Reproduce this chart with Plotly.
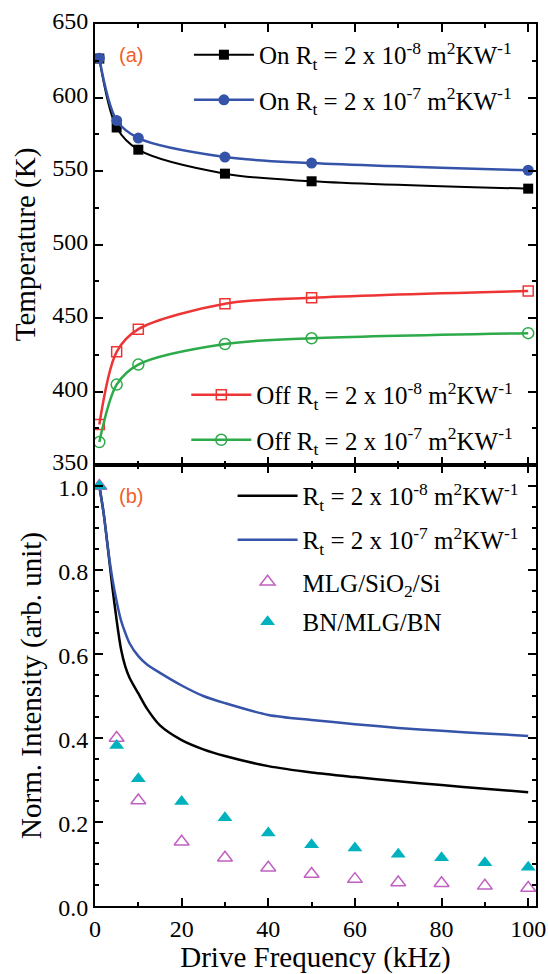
import plotly.graph_objects as go

# ---- (a) simulated temperature vs drive frequency ----
freq_temp = [1, 5, 10, 30, 50, 100]
temp_on_2e8 = [626.5, 579.6, 564.5, 548.2, 543.0, 538.0]
temp_on_2e7 = [626.7, 584.4, 572.4, 559.5, 555.4, 550.5]
temp_off_2e8 = [377.6, 427.0, 442.4, 459.7, 463.8, 468.4]
temp_off_2e7 = [365.6, 404.7, 418.3, 432.3, 436.2, 439.7]

# ---- (b) normalized intensity vs drive frequency ----
freq_model = [1, 2, 3, 4, 5, 6, 7, 8, 10, 12, 15, 20, 25, 30, 40, 50, 60, 70, 80, 90, 100]
int_model_2e8 = [1.0, 0.935, 0.85, 0.76, 0.68, 0.612, 0.57, 0.543, 0.506, 0.47, 0.43,
                 0.395, 0.373, 0.357, 0.333, 0.318, 0.307, 0.297, 0.288, 0.279, 0.271]
int_model_2e7 = [1.0, 0.935, 0.85, 0.78, 0.725, 0.68, 0.65, 0.625, 0.595, 0.575, 0.555,
                 0.525, 0.50, 0.483, 0.455, 0.443, 0.433, 0.424, 0.417, 0.411, 0.405]

freq_meas = [1, 5, 10, 20, 30, 40, 50, 60, 70, 80, 90, 100]
int_mlg_sio2 = [1.0, 0.40, 0.251, 0.153, 0.115, 0.091, 0.076, 0.064, 0.056, 0.054, 0.048, 0.043]
int_bn_mlg = [1.0, 0.382, 0.303, 0.249, 0.21, 0.174, 0.146, 0.138, 0.123, 0.115, 0.103, 0.092]

# legend labels
lbl_on_8 = "On R<sub>t</sub> = 2 x 10<sup>-8</sup> m<sup>2</sup>KW<sup>-1</sup>"
lbl_on_7 = "On R<sub>t</sub> = 2 x 10<sup>-7</sup> m<sup>2</sup>KW<sup>-1</sup>"
lbl_off_8 = "Off R<sub>t</sub> = 2 x 10<sup>-8</sup> m<sup>2</sup>KW<sup>-1</sup>"
lbl_off_7 = "Off R<sub>t</sub> = 2 x 10<sup>-7</sup> m<sup>2</sup>KW<sup>-1</sup>"
lbl_m_8 = "R<sub>t</sub> = 2 x 10<sup>-8</sup> m<sup>2</sup>KW<sup>-1</sup>"
lbl_m_7 = "R<sub>t</sub> = 2 x 10<sup>-7</sup> m<sup>2</sup>KW<sup>-1</sup>"
lbl_mlg = "MLG/SiO<sub>2</sub>/Si"
lbl_bn = "BN/MLG/BN"

BLACK = "#000000"
BLUE = "#3553A8"
RED = "#EE3535"
GREEN = "#2DAA4A"
MAGENTA = "#C060C0"
CYAN = "#00B2BE"
ORANGE = "#F0602A"
SERIF = "Liberation Serif"

fig = go.Figure()

# top panel
fig.add_trace(go.Scatter(x=freq_temp, y=temp_on_2e8, name=lbl_on_8, legend="legend",
                         mode="lines+markers", line=dict(color=BLACK, width=2, shape="spline", smoothing=0.9),
                         marker=dict(symbol="square", size=10, color=BLACK),
                         xaxis="x2", yaxis="y2"))
fig.add_trace(go.Scatter(x=freq_temp, y=temp_on_2e7, name=lbl_on_7, legend="legend2",
                         mode="lines+markers", line=dict(color=BLUE, width=2.5, shape="spline", smoothing=0.9),
                         marker=dict(symbol="circle", size=11, color=BLUE),
                         xaxis="x2", yaxis="y2"))
fig.add_trace(go.Scatter(x=freq_temp, y=temp_off_2e8, name=lbl_off_8, legend="legend3",
                         mode="lines+markers", line=dict(color=RED, width=2.5, shape="spline", smoothing=0.9),
                         marker=dict(symbol="square-open", size=10, color=RED, line=dict(width=1.5)),
                         xaxis="x2", yaxis="y2"))
fig.add_trace(go.Scatter(x=freq_temp, y=temp_off_2e7, name=lbl_off_7, legend="legend4",
                         mode="lines+markers", line=dict(color=GREEN, width=2.5, shape="spline", smoothing=0.9),
                         marker=dict(symbol="circle-open", size=11, color=GREEN, line=dict(width=1.5)),
                         xaxis="x2", yaxis="y2"))

# bottom panel
fig.add_trace(go.Scatter(x=freq_model, y=int_model_2e8, name=lbl_m_8, legend="legend5",
                         mode="lines", line=dict(color=BLACK, width=2.5, shape="spline", smoothing=0.8),
                         xaxis="x", yaxis="y"))
fig.add_trace(go.Scatter(x=freq_model, y=int_model_2e7, name=lbl_m_7, legend="legend6",
                         mode="lines", line=dict(color=BLUE, width=2.5, shape="spline", smoothing=0.8),
                         xaxis="x", yaxis="y"))
fig.add_trace(go.Scatter(x=freq_meas, y=int_mlg_sio2, name=lbl_mlg, legend="legend7",
                         mode="markers",
                         marker=dict(symbol="triangle-up-open", size=13, color=MAGENTA, line=dict(width=1.5)),
                         xaxis="x", yaxis="y"))
fig.add_trace(go.Scatter(x=freq_meas, y=int_bn_mlg, name=lbl_bn, legend="legend8",
                         mode="markers",
                         marker=dict(symbol="triangle-up", size=13, color=CYAN),
                         xaxis="x", yaxis="y"))

axis_common = dict(showline=True, linecolor="black", linewidth=2, mirror="allticks",
                   ticks="inside", ticklen=8, tickwidth=2, tickcolor="black",
                   showgrid=False, zeroline=False, automargin=False,
                   tickfont=dict(family=SERIF, size=24, color="black"))

fig.update_layout(
    width=548, height=974,
    margin=dict(l=95, r=12, t=24, b=68),
    paper_bgcolor="white", plot_bgcolor="white",
    font=dict(family=SERIF, color="black"),
    xaxis=dict(domain=[0, 1], range=[0, 101.8], dtick=20, tick0=0,
               minor=dict(dtick=10, ticks="inside", ticklen=4, tickwidth=2, tickcolor="black"),
               title=dict(text="Drive Frequency (kHz)", font=dict(family=SERIF, size=29), standoff=4),
               anchor="y", **axis_common),
    yaxis=dict(domain=[0, 0.5], range=[0, 1.05], dtick=0.2, tick0=0, tickformat=".1f",
               ticklabelshift=2,
               minor=dict(dtick=0.05, ticks="inside", ticklen=4, tickwidth=2, tickcolor="black"),
               title=dict(text="Norm. Intensity (arb. unit)", font=dict(family=SERIF, size=29), standoff=8),
               anchor="x", **axis_common),
    xaxis2=dict(domain=[0, 1], range=[0, 101.8], dtick=20, tick0=0, matches="x",
                showticklabels=False,
                minor=dict(dtick=10, ticks="inside", ticklen=4, tickwidth=2, tickcolor="black"),
                anchor="y2", **axis_common),
    yaxis2=dict(domain=[0.5, 1], range=[350, 650], dtick=50, tick0=350,
                ticklabelshift=-3,
                minor=dict(dtick=25, ticks="inside", ticklen=4, tickwidth=2, tickcolor="black"),
                title=dict(text="Temperature (K)", font=dict(family=SERIF, size=29), standoff=8),
                anchor="x2", **axis_common),
    showlegend=True,
)

# one single-entry legend per series, placed inside the panels
legend_style = dict(bgcolor="rgba(0,0,0,0)", borderwidth=0, itemwidth=60,
                    font=dict(family=SERIF, size=25, color="black"),
                    xanchor="left", yanchor="middle", xref="paper", yref="paper",
                    itemclick=False, itemdoubleclick=False)
legend_pos = {
    "legend": (0.213, 0.9649),
    "legend2": (0.213, 0.9138),
    "legend3": (0.207, 0.5794),
    "legend4": (0.207, 0.5283),
    "legend5": (0.312, 0.4649),
    "legend6": (0.312, 0.415),
    "legend7": (0.312, 0.3673),
    "legend8": (0.312, 0.322),
}
fig.update_layout(**{k: dict(x=v[0], y=v[1], **legend_style) for k, v in legend_pos.items()})

# panel labels
for txt, yy in (("(a)", 0.965), ("(b)", 0.4643)):
    fig.add_annotation(text=txt, x=0.0816, y=yy, xref="paper", yref="paper",
                       showarrow=False, xanchor="center", yanchor="middle",
                       font=dict(family="Liberation Sans", size=20, color=ORANGE))

fig.write_html("out.html")
